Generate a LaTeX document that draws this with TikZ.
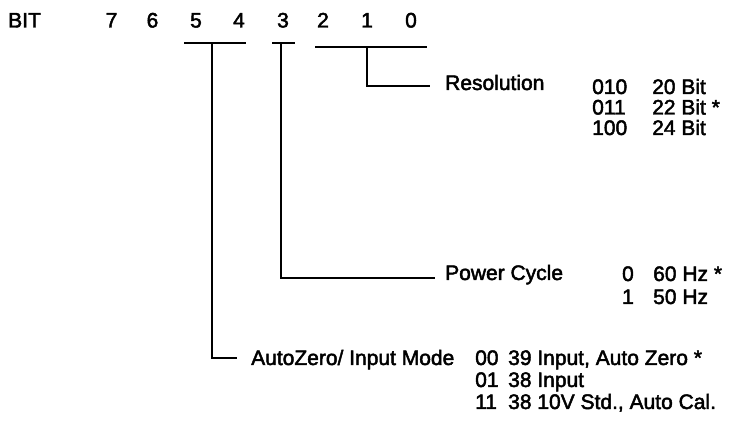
\documentclass[tikz,border=0pt]{standalone}
\usepackage{fontspec}
\setmainfont{Liberation Sans}
\newfontfamily\scanfont{Liberation Sans}[FakeBold=2.2]
\begin{document}
\begin{tikzpicture}[x=1pt,y=-1pt,
  txt/.style={inner sep=0pt,anchor=base west,font=\scanfont\fontsize{21}{25}\selectfont},
  dig/.style={inner sep=0pt,anchor=base,font=\scanfont\fontsize{21}{25}\selectfont},
  num/.style={inner sep=0pt,anchor=base east,font=\scanfont\fontsize{21}{25}\selectfont},
  bar/.style={line width=1.9pt}]
\useasboundingbox[fill=white] (0,0) rectangle (740,422);
% header
\node[txt] (bit) at (8,27.5) {BIT};
\node[dig] (d7) at (111.5,27.5) {7};
\node[dig] (d6) at (152.5,27.5) {6};
\node[dig] (d5) at (196,27.5) {5};
\node[dig] (d4) at (239,27.5) {4};
\node[dig] (d3) at (283,27.5) {3};
\node[dig] (d2) at (323,27.5) {2};
\node[dig] (d1) at (367,27.5) {1};
\node[dig] (d0) at (411,27.5) {0};
% bracket bars
\coordinate (a1) at (184,43); \coordinate (a2) at (246,43); \coordinate (am) at (212,43);
\coordinate (b1) at (272,43); \coordinate (b2) at (295,43); \coordinate (bm) at (281,43);
\coordinate (c1) at (315,47); \coordinate (c2) at (427,47); \coordinate (cm) at (367,47);
\draw[bar] (a1) -- (a2);
\draw[bar] (b1) -- (b2);
\draw[bar] (c1) -- (c2);
% labels
\node[txt] (res) at (445,90) {Resolution};
\node[txt] (pc) at (445,280) {Power Cycle};
\node[txt] (az) at (251,365) {AutoZero/ Input Mode};
\coordinate (cend) at (430,86);
\coordinate (bend) at (435,278);
\coordinate (aend) at (237,358);
\draw[bar] (cm) |- (cend);
\draw[bar] (bm) |- (bend);
\draw[bar] (am) |- (aend);
% resolution table
\node[txt] (r1a) at (592,94) {010}; \node[txt] (r1b) at (652,94) {20 Bit};
\node[txt] (r2a) at (592,114.5) {011}; \node[txt] (r2b) at (652,114.5) {22 Bit *};
\node[txt] (r3a) at (592,135) {100}; \node[txt] (r3b) at (652,135) {24 Bit};
% power cycle table
\node[num] (p1a) at (634,281) {0}; \node[txt] (p1b) at (653,281) {60 Hz *};
\node[num] (p2a) at (634,304) {1}; \node[txt] (p2b) at (653,304) {50 Hz};
% autozero table
\node[txt] (z1a) at (475,365) {00}; \node[txt] (z1b) at (508,365) {39 Input, Auto Zero *};
\node[txt] (z2a) at (475,387) {01}; \node[txt] (z2b) at (508,387) {38 Input};
\node[txt] (z3a) at (475,409) {11}; \node[txt] (z3b) at (508,409) {38 10V Std., Auto Cal.};
\end{tikzpicture}
\end{document}
